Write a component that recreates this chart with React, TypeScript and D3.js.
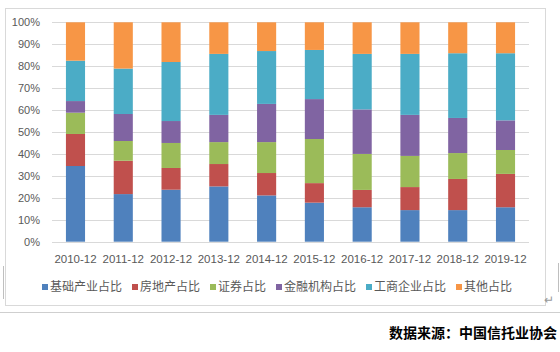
import React from "react";
import * as d3 from "d3";

const categories = ["2010-12", "2011-12", "2012-12", "2013-12", "2014-12", "2015-12", "2016-12", "2017-12", "2018-12", "2019-12"];
const seriesNames = ["基础产业占比", "房地产占比", "证券占比", "金融机构占比", "工商企业占比", "其他占比"];
const infra = [34.5, 21.7, 23.7, 25.2, 21.1, 17.8, 15.7, 14.4, 14.4, 15.7];
const realEstate = [14.6, 15.2, 9.9, 10.2, 10.2, 8.9, 7.9, 10.5, 14.2, 15.2];
const securities = [9.7, 9.0, 11.4, 10.0, 14.1, 20.1, 16.4, 14.2, 11.8, 10.9];
const financial = [5.3, 12.3, 10.0, 12.4, 17.4, 18.2, 20.3, 18.7, 16.0, 13.5];
const industrial = [18.4, 20.7, 26.9, 27.8, 24.1, 22.4, 25.3, 27.8, 29.5, 30.6];
const others = [17.5, 21.1, 18.1, 14.4, 13.1, 12.6, 14.4, 14.4, 14.1, 14.1];
const yTicks = [0, 10, 20, 30, 40, 50, 60, 70, 80, 90, 100];
const colors = ["#4F81BD", "#C0504D", "#9BBB59", "#8064A2", "#4BACC6", "#F79646"];
const sourceText = "数据来源：中国信托业协会";

const seriesValues = [infra, realEstate, securities, financial, industrial, others];

export default function App() {
  const rows = categories.map((c, i) => {
    const r: any = { cat: c };
    seriesNames.forEach((s, k) => (r[s] = seriesValues[k][i]));
    return r;
  });
  const stacked = d3.stack<any>().keys(seriesNames).offset(d3.stackOffsetExpand)(rows);

  const x = d3.scaleBand().domain(categories).range([51.6, 529.4]).paddingInner(0.6).paddingOuter(0.3);
  const y = d3.scaleLinear().domain([0, 100]).range([241.7, 22.3]);

  const labelFont = "'Liberation Sans', 'Noto Sans CJK SC', sans-serif";
  const cjkFont = "'Noto Sans CJK SC', sans-serif";

  // legend layout
  const charW = 12;
  let lx = 42;
  const legendItems = seriesNames.map((s, k) => {
    const item = { name: s, x: lx, color: colors[k] };
    lx += 6 + 3 + s.length * charW + 9;
    return item;
  });

  return (
    <svg width={560} height={352} style={{ position: "absolute", left: 0, top: 0, background: "#fff" }}>
      <rect x={0} y={0} width={560} height={352} fill="#fff" />
      {/* chart frame */}
      <rect x={5.5} y={8.5} width={540} height={297} fill="none" stroke="#d9d9d9" strokeWidth={1} />
      {/* page decorations */}
      <line x1={0} x2={560} y1={312.5} y2={312.5} stroke="#cfcfcf" />
      <line x1={3.5} x2={3.5} y1={266} y2={299} stroke="#bfbfbf" />
      <line x1={558.5} x2={558.5} y1={263} y2={292} stroke="#bfbfbf" />
      <text x={549} y={304} fontSize={12} fill="#999" fontFamily={labelFont} textAnchor="middle">↵</text>

      {/* gridlines */}
      {yTicks.map((t) => (
        <line key={t} x1={52} x2={529} y1={Math.round(y(t)) + 0.5} y2={Math.round(y(t)) + 0.5} stroke="#d9d9d9" strokeWidth={1} />
      ))}
      {yTicks.map((t) => (
        <text key={"l" + t} x={40} y={y(t)} dy="0.35em" textAnchor="end" fontSize={11} fill="#595959" fontFamily={labelFont}>
          {t + "%"}
        </text>
      ))}

      {/* bars */}
      {stacked.map((layer, k) => (
        <g key={layer.key} fill={colors[k]}>
          {layer.map((d, i) => (
            <rect
              key={i}
              x={x(categories[i])}
              width={x.bandwidth()}
              y={y(d[1] * 100)}
              height={y(d[0] * 100) - y(d[1] * 100)}
            />
          ))}
        </g>
      ))}

      {/* x labels */}
      {categories.map((c) => (
        <text key={c} x={(x(c) as number) + x.bandwidth() / 2} y={263} textAnchor="middle" fontSize={11.5} fill="#595959" fontFamily={labelFont}>
          {c}
        </text>
      ))}

      {/* legend */}
      {legendItems.map((it) => (
        <g key={it.name}>
          <rect x={it.x} y={284} width={6} height={6} fill={it.color} />
          <text x={it.x + 8} y={291} fontSize={12} fill="#595959" fontFamily={cjkFont}>
            {it.name}
          </text>
        </g>
      ))}

      {/* source */}
      <text x={557} y={338} textAnchor="end" fontSize={14} fontWeight={700} fill="#000" fontFamily={cjkFont}>
        {sourceText}
      </text>
    </svg>
  );
}
